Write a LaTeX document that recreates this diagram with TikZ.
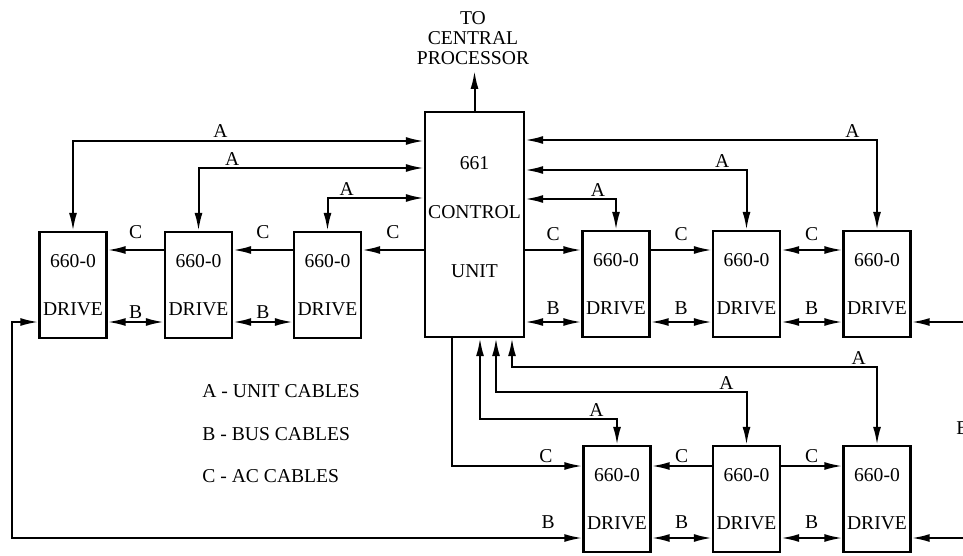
\documentclass[tikz,border=0pt]{standalone}
\usepackage{fontspec}
\setmainfont{Liberation Serif}
\usetikzlibrary{arrows.meta}
\begin{document}
\begin{tikzpicture}[x=0.5pt,y=-0.5pt,font=\fontsize{9.8}{10.5}\selectfont,
  drv/.style={draw,line width=1.2pt,minimum width=33.5pt,minimum height=53pt,inner sep=0pt,align=center},
  ctl/.style={draw,line width=1.2pt,minimum width=49.5pt,minimum height=112.5pt,inner sep=0pt},
  lbl/.style={inner sep=1pt},
  cbl/.style={line width=1pt,-{Latex[length=9pt,width=4pt]}},
  bcbl/.style={line width=1pt,{Latex[length=9pt,width=4pt]}-{Latex[length=9pt,width=4pt]}}]
\useasboundingbox (0,0) rectangle (963,556);
% control unit
\node[ctl] (cu) at (474.5,224.5) {};
\node[lbl] (cu1) at (474.5,163) {661};
\node[lbl] (cu2) at (474.5,212) {CONTROL};
\node[lbl] (cu3) at (474.5,271) {UNIT};
\node[lbl,align=center,font=\fontsize{9.8}{10}\selectfont,inner sep=3pt] (cpu) at (473,38) {TO\\CENTRAL\\PROCESSOR};
\draw[cbl] (cu.north) -- (cu.north |- cpu.south);
% drives
\node[drv] (d1) at (73,285) {660-0\\[13.5pt]DRIVE};
\node[drv] (d2) at (198.5,285) {660-0\\[13.5pt]DRIVE};
\node[drv] (d3) at (327.5,285) {660-0\\[13.5pt]DRIVE};
\node[drv] (d4) at (616,284) {660-0\\[13.5pt]DRIVE};
\node[drv] (d5) at (746.5,284) {660-0\\[13.5pt]DRIVE};
\node[drv] (d6) at (877,284) {660-0\\[13.5pt]DRIVE};
\node[drv] (d7) at (617,499) {660-0\\[13.5pt]DRIVE};
\node[drv] (d8) at (746.5,499) {660-0\\[13.5pt]DRIVE};
\node[drv] (d9) at (877,499) {660-0\\[13.5pt]DRIVE};
% rows of the cables
\coordinate (a1) at (0,141);
\coordinate (a2) at (0,168);
\coordinate (a3) at (0,198);
\coordinate (a4) at (0,140);
\coordinate (a5) at (0,170);
\coordinate (a6) at (0,199);
\coordinate (ct) at (0,250);
\coordinate (bt) at (0,322);
\coordinate (cbt) at (0,466);
\coordinate (bbt) at (0,538);
\coordinate (ab1) at (480,419);
\coordinate (ab2) at (496,392);
\coordinate (ab3) at (512,367);
\coordinate (cx) at (452,466);
\coordinate (lx) at (12,0);
\coordinate (rx) at (975,0);
% A - unit cables
\draw[bcbl] (cu.west |- a1) -- node[lbl,above,pos=0.58] {A} (d1.north |- a1) -- (d1.north);
\draw[bcbl] (cu.west |- a2) -- node[lbl,above,pos=0.85] {A} (d2.north |- a2) -- (d2.north);
\draw[bcbl] (cu.west |- a3) -- node[lbl,above,pos=0.8] {A} (d3.north |- a3) -- (d3.north);
\draw[bcbl] (cu.east |- a4) -- node[lbl,above,pos=0.93] {A} (d6.north |- a4) -- (d6.north);
\draw[bcbl] (cu.east |- a5) -- node[lbl,above,pos=0.89] {A} (d5.north |- a5) -- (d5.north);
\draw[bcbl] (cu.east |- a6) -- node[lbl,above,pos=0.8] {A} (d4.north |- a6) -- (d4.north);
\draw[bcbl] (cu.south -| ab1) -- (ab1) -- node[lbl,above,pos=0.85] {A} (d7.north |- ab1) -- (d7.north);
\draw[bcbl] (cu.south -| ab2) -- (ab2) -- node[lbl,above,pos=0.92] {A} (d8.north |- ab2) -- (d8.north);
\draw[bcbl] (cu.south -| ab3) -- (ab3) -- node[lbl,above,pos=0.95] {A} (d9.north |- ab3) -- (d9.north);
% C - ac cables
\draw[cbl] (cu.west |- ct) -- node[lbl,above=4pt] {C} (d3.east |- ct);
\draw[cbl] (d3.west |- ct) -- node[lbl,above=4pt] {C} (d2.east |- ct);
\draw[cbl] (d2.west |- ct) -- node[lbl,above=4pt] {C} (d1.east |- ct);
\draw[cbl] (cu.east |- ct) -- node[lbl,above=3pt] {C} (d4.west |- ct);
\draw[cbl] (d4.east |- ct) -- node[lbl,above=3pt] {C} (d5.west |- ct);
\draw[bcbl] (d5.east |- ct) -- node[lbl,above=3pt] {C} (d6.west |- ct);
\draw[cbl] (cu.south -| cx) |- node[lbl,above,pos=0.86] {C} (d7.west |- cx);
\draw[cbl] (d8.west |- cbt) -- node[lbl,above] {C} (d7.east |- cbt);
\draw[cbl] (d8.east |- cbt) -- node[lbl,above] {C} (d9.west |- cbt);
% B - bus cables
\draw[bcbl] (d1.east |- bt) -- node[lbl,above] {B} (d2.west |- bt);
\draw[bcbl] (d2.east |- bt) -- node[lbl,above] {B} (d3.west |- bt);
\draw[bcbl] (cu.east |- bt) -- node[lbl,above=2pt] {B} (d4.west |- bt);
\draw[bcbl] (d4.east |- bt) -- node[lbl,above=2pt] {B} (d5.west |- bt);
\draw[bcbl] (d5.east |- bt) -- node[lbl,above=2pt] {B} (d6.west |- bt);
\draw[cbl] (rx |- bt) -- (d6.east |- bt);
\draw[bcbl] (d1.west |- bt) -| (lx |- bbt) -- node[lbl,above=3pt,pos=0.94] {B} (d7.west |- bbt);
\draw[bcbl] (d7.east |- bbt) -- node[lbl,above=3pt] {B} (d8.west |- bbt);
\draw[bcbl] (d8.east |- bbt) -- node[lbl,above=3pt] {B} (d9.west |- bbt);
\draw[cbl] (rx |- bbt) -- (d9.east |- bbt);
\node[lbl,anchor=west] (bcut) at (954,428) {B};
% key
\node[lbl,anchor=west] (keya) at (200,391) {A - UNIT CABLES};
\node[lbl,anchor=west] (keyb) at (200,434) {B - BUS CABLES};
\node[lbl,anchor=west] (keyc) at (200,476) {C - AC CABLES};
\end{tikzpicture}
\end{document}
